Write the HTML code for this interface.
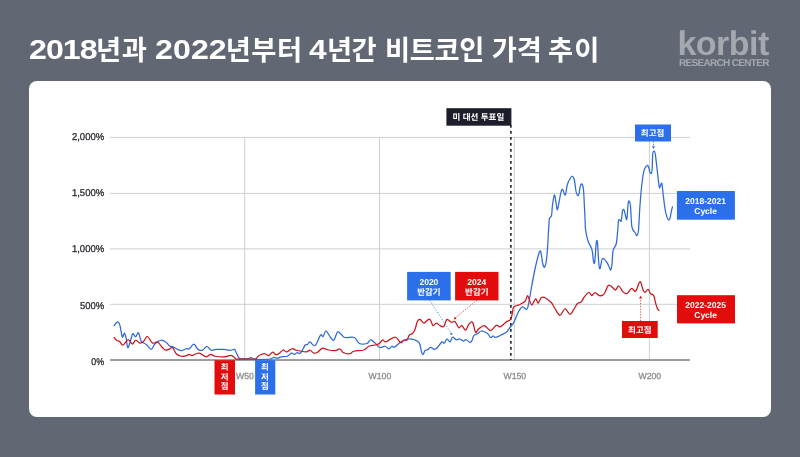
<!DOCTYPE html>
<html lang="ko">
<head>
<meta charset="utf-8">
<title>2018년과 2022년부터 4년간 비트코인 가격 추이</title>
<style>
html,body{margin:0;padding:0;}
body{width:800px;height:457px;overflow:hidden;background:#626873;position:relative;
  font-family:"Liberation Sans","Noto Sans CJK KR",sans-serif;}
.title{position:absolute;left:0;top:0;margin:0;font-size:27.3px;line-height:40px;font-weight:700;color:#fff;white-space:nowrap;}
.title span{position:absolute;display:inline-block;transform-origin:0 0;white-space:nowrap;}
.title .h{top:30.7px;font-size:27.3px;}
.title .n{top:29.7px;font-size:27px;}
.logo{position:absolute;left:677.4px;top:25.9px;color:#a5a8ae;}
.logo .k{font-size:34px;line-height:36px;font-weight:700;letter-spacing:-0.5px;text-rendering:geometricPrecision;display:block;white-space:nowrap;}
.logo .r{font-size:10px;line-height:10px;font-weight:700;display:block;white-space:nowrap;position:absolute;left:1.6px;top:33.3px;letter-spacing:-0.68px;text-rendering:geometricPrecision;}
.card{position:absolute;left:29px;top:80.5px;width:742px;height:336px;background:#fff;border-radius:8px;}
svg{position:absolute;left:0;top:0;}
svg text{font-family:"Liberation Sans","Noto Sans CJK KR",sans-serif;text-rendering:geometricPrecision;}
.yl{font-size:9.9px;fill:#2a2c33;text-anchor:end;stroke:#2a2c33;stroke-width:0.3px;}
.xl{font-size:8.7px;fill:#8c8d92;text-anchor:middle;stroke:#8c8d92;stroke-width:0.3px;}
.lb{font-size:8.5px;font-weight:700;fill:#fff;text-anchor:middle;}
</style>
</head>
<body>
<h1 class="title"><span class="n" style="left:29.16px;letter-spacing:-0.79px;transform:scaleX(1.190)">2018</span><span class="h" style="left:96.09px;letter-spacing:0.49px">년과</span> <span class="n" style="left:155.01px;letter-spacing:0.07px;transform:scaleX(1.190)">2022</span><span class="h" style="left:225.79px;letter-spacing:0.46px">년부터</span> <span class="n" style="left:309.49px;letter-spacing:0.00px;transform:scaleX(1.169)">4</span><span class="h" style="left:327.09px;letter-spacing:-0.72px">년간</span> <span class="h" style="left:385.05px;letter-spacing:-0.39px">비트코인</span> <span class="h" style="left:491.69px;letter-spacing:-0.09px">가격</span> <span class="h" style="left:548.01px;letter-spacing:1.15px">추이</span></h1>
<div class="logo"><span class="k">korbit</span><span class="r">RESEARCH CENTER</span></div>
<div class="card"></div>
<svg width="800" height="457" viewBox="0 0 800 457">
  <!-- gridlines -->
  <g stroke="#cdcfd3" stroke-width="1" fill="none">
    <path d="M110 137.4H690M110 193.4H690M110 248.9H690M110 304.3H690"/>
    <path d="M244.7 137V360M379.5 137V360M514.4 137V360M649.4 137V360"/>
  </g>
  <!-- axis -->
  <path d="M110 360H690" stroke="#7e7e7e" stroke-width="1.7" fill="none"/>
  <!-- y labels -->
  <text class="yl" transform="translate(104.2 140.05) scale(0.963 1)">2,000%</text>
  <text class="yl" transform="translate(104.2 196.35) scale(0.963 1)">1,500%</text>
  <text class="yl" transform="translate(104.2 252.40) scale(0.963 1)">1,000%</text>
  <text class="yl" transform="translate(104.2 309.05) scale(0.955 1)">500%</text>
  <text class="yl" transform="translate(104.2 365.20) scale(0.905 1)">0%</text>
  <!-- x labels -->
  <text class="xl" x="245" y="378.8">W50</text>
  <text class="xl" x="379.9" y="378.8">W100</text>
  <text class="xl" x="514.8" y="378.8">W150</text>
  <text class="xl" x="649.8" y="378.8">W200</text>

  <!-- election dashed line -->
  <path d="M510.85 124.9V360" stroke="#1c1f2b" stroke-width="1.6" stroke-dasharray="2.9 3.1" fill="none"/>

  <!-- series -->
  <path d="M114.10 325.60C114.67 324.98 116.52 321.90 117.50 321.90C118.48 321.90 119.21 323.10 120.00 325.60C120.79 328.10 121.52 335.65 122.25 336.90C122.98 338.15 123.78 333.00 124.40 333.10C125.03 333.20 125.44 335.10 126.00 337.50C126.56 339.90 127.08 346.67 127.75 347.50C128.42 348.33 129.17 344.79 130.00 342.50C130.83 340.21 131.82 334.68 132.75 333.75C133.68 332.82 134.64 337.07 135.60 336.90C136.56 336.73 137.56 332.02 138.50 332.75C139.44 333.48 139.96 339.31 141.25 341.25C142.54 343.19 144.58 343.04 146.25 344.40C147.92 345.76 149.79 349.51 151.25 349.40C152.71 349.29 153.33 345.27 155.00 343.75C156.67 342.23 159.38 340.46 161.25 340.25C163.12 340.04 164.79 341.50 166.25 342.50C167.71 343.50 168.88 345.52 170.00 346.25C171.12 346.98 171.75 346.38 173.00 346.90C174.25 347.42 176.02 348.78 177.50 349.40C178.98 350.02 180.44 350.71 181.90 350.60C183.36 350.49 185.00 349.06 186.25 348.75C187.50 348.44 188.15 349.54 189.40 348.75C190.65 347.96 192.40 344.00 193.75 344.00C195.10 344.00 196.46 347.70 197.50 348.75C198.54 349.80 199.08 350.09 200.00 350.30C200.92 350.51 201.83 350.63 203.00 350.00C204.17 349.37 205.62 346.46 207.00 346.50C208.38 346.54 209.71 349.77 211.25 350.25C212.79 350.73 214.17 349.54 216.25 349.40C218.33 349.26 221.46 349.26 223.75 349.40C226.04 349.54 228.22 350.25 230.00 350.25C231.78 350.25 233.36 349.02 234.40 349.40C235.44 349.77 235.53 351.15 236.25 352.50C236.97 353.85 238.03 356.46 238.75 357.50C239.47 358.54 238.93 358.58 240.60 358.75C242.27 358.92 246.97 358.71 248.75 358.50C250.53 358.29 250.42 357.42 251.25 357.50C252.08 357.58 252.50 358.67 253.75 359.00C255.00 359.33 256.04 359.50 258.75 359.50C261.46 359.50 267.50 359.33 270.00 359.00C272.50 358.67 272.50 357.65 273.75 357.50C275.00 357.35 276.25 358.20 277.50 358.10C278.75 358.00 279.58 357.21 281.25 356.90C282.92 356.59 285.83 356.88 287.50 356.25C289.17 355.62 290.10 353.41 291.25 353.10C292.40 352.79 293.46 354.46 294.40 354.40C295.34 354.34 295.97 352.92 296.90 352.75C297.83 352.58 299.17 353.65 300.00 353.40C300.83 353.15 301.07 352.61 301.90 351.25C302.73 349.89 304.07 346.39 305.00 345.25C305.93 344.11 306.67 344.96 307.50 344.40C308.33 343.84 308.75 341.70 310.00 341.90C311.25 342.10 313.23 346.75 315.00 345.60C316.77 344.45 319.25 336.52 320.60 335.00C321.95 333.48 322.20 337.17 323.10 336.50C324.00 335.83 324.75 330.83 326.00 331.00C327.25 331.17 329.27 336.00 330.60 337.50C331.93 339.00 332.85 340.93 334.00 340.00C335.15 339.07 336.29 332.83 337.50 331.90C338.71 330.97 340.00 333.47 341.25 334.40C342.50 335.33 342.81 336.98 345.00 337.50C347.19 338.02 352.00 336.50 354.40 337.50C356.80 338.50 357.32 342.50 359.40 343.50C361.48 344.50 365.03 344.12 366.90 343.50C368.77 342.88 369.25 339.82 370.60 339.75C371.95 339.68 373.43 341.81 375.00 343.10C376.57 344.39 378.33 346.98 380.00 347.50C381.67 348.02 383.54 346.04 385.00 346.25C386.46 346.46 387.60 348.75 388.75 348.75C389.90 348.75 390.96 346.50 391.90 346.25C392.84 346.00 393.05 347.88 394.40 347.25C395.75 346.62 398.44 343.67 400.00 342.50C401.56 341.33 402.29 340.83 403.75 340.25C405.21 339.67 406.88 339.04 408.75 339.00C410.62 338.96 413.23 339.32 415.00 340.00C416.77 340.68 418.32 341.12 419.40 343.10C420.48 345.08 420.88 350.02 421.50 351.90C422.12 353.78 422.52 354.62 423.10 354.40C423.68 354.18 424.17 351.43 425.00 350.60C425.83 349.77 427.17 349.96 428.10 349.40C429.03 348.84 429.55 347.25 430.60 347.25C431.65 347.25 433.25 349.36 434.40 349.40C435.55 349.44 436.25 348.75 437.50 347.50C438.75 346.25 440.75 342.63 441.90 341.90C443.05 341.17 443.57 343.58 444.40 343.10C445.23 342.62 445.97 339.20 446.90 339.00C447.83 338.80 449.07 342.19 450.00 341.90C450.93 341.61 451.46 337.61 452.50 337.25C453.54 336.89 455.00 339.46 456.25 339.75C457.50 340.04 458.86 338.79 460.00 339.00C461.14 339.21 462.06 340.88 463.10 341.00C464.14 341.12 465.10 339.50 466.25 339.75C467.40 340.00 469.00 342.46 470.00 342.50C471.00 342.54 471.62 341.15 472.25 340.00C472.88 338.85 472.88 336.64 473.75 335.60C474.62 334.56 476.25 334.52 477.50 333.75C478.75 332.98 479.58 331.04 481.25 331.00C482.92 330.96 485.94 332.42 487.50 333.50C489.06 334.58 489.67 337.08 490.60 337.50C491.53 337.92 492.27 336.02 493.10 336.00C493.93 335.98 494.24 337.57 495.60 337.40C496.96 337.23 499.48 335.86 501.25 335.00C503.02 334.14 504.79 333.50 506.25 332.25C507.71 331.00 508.75 329.12 510.00 327.50C511.25 325.88 512.29 325.21 513.75 322.50C515.21 319.79 517.29 313.85 518.75 311.25C520.21 308.65 521.25 307.21 522.50 306.90C523.75 306.59 525.32 309.51 526.25 309.40C527.18 309.29 527.27 309.69 528.10 306.25C528.93 302.81 530.20 294.46 531.25 288.75C532.30 283.04 533.26 277.42 534.40 272.00C535.54 266.58 537.07 259.71 538.10 256.25C539.13 252.79 539.83 250.00 540.60 251.25C541.38 252.50 542.06 261.14 542.75 263.75C543.44 266.36 544.06 268.15 544.75 266.90C545.44 265.65 546.23 262.82 546.90 256.25C547.57 249.68 548.33 233.75 548.75 227.50C549.17 221.25 548.94 220.73 549.40 218.75C549.86 216.77 550.98 217.89 551.50 215.60C552.02 213.31 552.02 208.43 552.50 205.00C552.98 201.57 553.82 195.42 554.40 195.00C554.98 194.58 555.52 200.00 556.00 202.50C556.48 205.00 556.75 210.00 557.25 210.00C557.75 210.00 558.38 205.52 559.00 202.50C559.62 199.48 560.42 194.08 561.00 191.90C561.58 189.72 561.93 189.09 562.50 189.40C563.07 189.71 563.88 192.92 564.40 193.75C564.92 194.58 565.12 195.86 565.60 194.40C566.08 192.94 566.52 187.61 567.25 185.00C567.98 182.39 569.12 180.21 570.00 178.75C570.88 177.29 571.77 176.04 572.50 176.25C573.23 176.46 573.82 177.50 574.40 180.00C574.98 182.50 575.48 188.65 576.00 191.25C576.52 193.85 577.00 195.18 577.50 195.60C578.00 196.02 578.54 195.31 579.00 193.75C579.46 192.19 579.77 187.88 580.25 186.25C580.73 184.62 581.36 183.38 581.90 184.00C582.44 184.62 583.08 186.29 583.50 190.00C583.92 193.71 584.15 201.58 584.40 206.25C584.65 210.92 584.80 214.04 585.00 218.00C585.20 221.96 585.08 226.12 585.60 230.00C586.12 233.88 587.05 238.02 588.10 241.25C589.15 244.48 591.00 246.07 591.90 249.40C592.80 252.73 593.02 259.17 593.50 261.25C593.98 263.33 594.30 264.88 594.75 261.90C595.20 258.92 595.76 246.67 596.20 243.40C596.64 240.13 596.98 239.12 597.40 242.30C597.82 245.48 598.32 258.09 598.75 262.50C599.18 266.91 599.38 269.40 600.00 268.75C600.62 268.10 601.35 259.64 602.50 258.60C603.65 257.56 605.75 261.02 606.90 262.50C608.05 263.98 608.78 266.25 609.40 267.50C610.02 268.75 610.18 270.42 610.60 270.00C611.02 269.58 611.48 268.23 611.90 265.00C612.32 261.77 612.38 254.14 613.10 250.60C613.83 247.06 615.48 247.18 616.25 243.75C617.02 240.32 617.38 233.86 617.75 230.00C618.12 226.14 618.12 222.27 618.50 220.60C618.88 218.93 619.54 219.93 620.00 220.00C620.46 220.07 620.83 222.46 621.25 221.00C621.67 219.54 622.04 213.12 622.50 211.25C622.96 209.38 623.48 208.92 624.00 209.75C624.52 210.58 625.12 214.71 625.60 216.25C626.08 217.79 626.48 221.08 626.90 219.00C627.32 216.92 627.68 206.71 628.10 203.75C628.52 200.79 628.98 200.62 629.40 201.25C629.82 201.88 630.18 203.22 630.60 207.50C631.02 211.78 631.17 222.73 631.90 226.90C632.63 231.07 634.17 231.05 635.00 232.50C635.83 233.95 636.32 236.02 636.90 235.60C637.48 235.18 638.02 234.47 638.50 230.00C638.98 225.53 639.29 215.42 639.75 208.75C640.21 202.08 640.69 195.62 641.25 190.00C641.81 184.38 642.48 178.65 643.10 175.00C643.73 171.35 644.27 169.70 645.00 168.10C645.73 166.50 646.88 165.50 647.50 165.40C648.12 165.30 648.33 166.32 648.75 167.50C649.17 168.68 649.54 171.57 650.00 172.50C650.46 173.43 651.13 173.93 651.50 173.10C651.87 172.27 651.99 170.72 652.20 167.50C652.41 164.28 652.45 156.46 652.75 153.75C653.05 151.04 653.58 151.25 654.00 151.25C654.42 151.25 654.77 151.04 655.25 153.75C655.73 156.46 656.48 163.96 656.90 167.50C657.32 171.04 657.33 171.67 657.75 175.00C658.17 178.33 658.92 185.83 659.40 187.50C659.88 189.17 660.18 185.62 660.60 185.00C661.02 184.38 661.48 182.29 661.90 183.75C662.32 185.21 662.58 189.58 663.10 193.75C663.62 197.92 664.37 204.89 665.00 208.75C665.63 212.61 666.32 215.03 666.90 216.90C667.48 218.78 667.98 219.80 668.50 220.00C669.02 220.20 669.50 219.67 670.00 218.10C670.50 216.53 671.08 212.47 671.50 210.60C671.92 208.73 672.33 207.52 672.50 206.90" stroke="#2d69da" stroke-width="1.25" fill="none" stroke-linejoin="round" stroke-linecap="round"/>
  <path d="M114.10 337.50C114.57 338.02 116.02 339.98 116.90 340.60C117.78 341.23 118.37 340.52 119.40 341.25C120.43 341.98 121.65 345.25 123.10 345.00C124.55 344.75 126.53 339.92 128.10 339.75C129.67 339.58 131.25 343.92 132.50 344.00C133.75 344.08 134.35 340.40 135.60 340.25C136.85 340.10 138.64 342.93 140.00 343.10C141.36 343.27 142.50 342.35 143.75 341.25C145.00 340.15 146.04 336.19 147.50 336.50C148.96 336.81 150.83 342.20 152.50 343.10C154.17 344.00 156.04 341.38 157.50 341.90C158.96 342.42 160.00 344.90 161.25 346.25C162.50 347.60 163.75 349.48 165.00 350.00C166.25 350.52 167.50 349.82 168.75 349.40C170.00 348.98 171.25 346.77 172.50 347.50C173.75 348.23 174.79 352.29 176.25 353.75C177.71 355.21 179.58 355.94 181.25 356.25C182.92 356.56 184.89 355.91 186.25 355.60C187.61 355.29 188.46 354.40 189.40 354.40C190.34 354.40 190.76 355.71 191.90 355.60C193.04 355.49 194.90 354.12 196.25 353.75C197.60 353.38 198.33 352.88 200.00 353.40C201.67 353.92 204.48 356.73 206.25 356.90C208.02 357.07 209.14 354.51 210.60 354.40C212.06 354.29 212.81 355.83 215.00 356.25C217.19 356.67 221.15 357.04 223.75 356.90C226.35 356.76 228.93 355.40 230.60 355.40C232.27 355.40 232.81 356.28 233.75 356.90C234.69 357.52 235.00 358.75 236.25 359.10C237.50 359.45 238.12 359.02 241.25 359.00C244.38 358.98 252.29 359.35 255.00 359.00C257.71 358.65 256.57 357.61 257.50 356.90C258.43 356.19 259.35 355.27 260.60 354.75C261.85 354.23 263.64 353.61 265.00 353.75C266.36 353.89 267.50 355.85 268.75 355.60C270.00 355.35 271.25 352.39 272.50 352.25C273.75 352.11 275.00 354.67 276.25 354.75C277.50 354.83 278.86 353.54 280.00 352.75C281.14 351.96 281.95 350.14 283.10 350.00C284.25 349.86 285.43 352.11 286.90 351.90C288.37 351.69 290.45 349.07 291.90 348.75C293.35 348.43 294.25 349.62 295.60 350.00C296.95 350.38 298.23 350.68 300.00 351.00C301.77 351.32 304.58 352.02 306.25 351.90C307.92 351.77 308.75 350.05 310.00 350.25C311.25 350.45 312.50 352.77 313.75 353.10C315.00 353.43 316.04 353.08 317.50 352.25C318.96 351.42 320.83 348.52 322.50 348.10C324.17 347.68 325.42 349.33 327.50 349.75C329.58 350.17 332.92 350.73 335.00 350.60C337.08 350.48 338.65 348.68 340.00 349.00C341.35 349.32 341.43 351.71 343.10 352.50C344.77 353.29 348.23 353.96 350.00 353.75C351.77 353.54 351.46 351.88 353.75 351.25C356.04 350.62 361.25 350.83 363.75 350.00C366.25 349.17 366.88 347.08 368.75 346.25C370.62 345.42 373.23 345.46 375.00 345.00C376.77 344.54 378.15 344.33 379.40 343.50C380.65 342.67 381.47 340.27 382.50 340.00C383.53 339.73 384.35 342.00 385.60 341.90C386.85 341.80 388.33 340.17 390.00 339.40C391.67 338.62 393.93 336.78 395.60 337.25C397.27 337.72 398.95 341.32 400.00 342.20C401.05 343.07 401.27 342.82 401.90 342.50C402.52 342.18 402.92 340.67 403.75 340.25C404.58 339.83 405.96 340.88 406.90 340.00C407.84 339.12 408.47 336.08 409.40 335.00C410.33 333.92 411.57 334.43 412.50 333.50C413.43 332.57 414.17 331.44 415.00 329.40C415.83 327.36 416.67 322.92 417.50 321.25C418.33 319.58 418.96 319.09 420.00 319.40C421.04 319.71 422.60 322.90 423.75 323.10C424.90 323.30 425.86 321.22 426.90 320.60C427.94 319.98 428.97 318.57 430.00 319.40C431.03 320.23 432.06 324.98 433.10 325.60C434.14 326.22 435.10 323.10 436.25 323.10C437.40 323.10 438.75 325.03 440.00 325.60C441.25 326.17 442.60 327.53 443.75 326.50C444.90 325.47 445.65 320.11 446.90 319.40C448.15 318.69 449.90 321.90 451.25 322.25C452.60 322.60 453.75 320.58 455.00 321.50C456.25 322.42 457.60 327.07 458.75 327.75C459.90 328.43 460.76 325.18 461.90 325.60C463.04 326.02 464.46 330.45 465.60 330.25C466.74 330.05 467.60 325.73 468.75 324.40C469.90 323.07 471.36 320.94 472.50 322.25C473.64 323.56 474.56 331.17 475.60 332.25C476.64 333.33 477.28 329.86 478.75 328.75C480.22 327.64 482.42 325.29 484.40 325.60C486.38 325.91 488.62 330.66 490.60 330.60C492.58 330.54 494.68 325.87 496.25 325.25C497.82 324.63 498.33 327.46 500.00 326.90C501.67 326.34 504.48 323.15 506.25 321.90C508.02 320.65 509.56 320.97 510.60 319.40C511.64 317.83 511.98 314.58 512.50 312.50C513.02 310.42 512.71 308.15 513.75 306.90C514.79 305.65 516.88 305.94 518.75 305.00C520.62 304.06 523.54 302.82 525.00 301.25C526.46 299.68 526.77 295.81 527.50 295.60C528.23 295.39 528.67 298.43 529.40 300.00C530.13 301.57 530.87 305.21 531.90 305.00C532.93 304.79 534.57 299.07 535.60 298.75C536.63 298.43 537.16 303.27 538.10 303.10C539.04 302.93 540.10 298.64 541.25 297.75C542.40 296.86 543.33 296.96 545.00 297.75C546.67 298.54 549.58 300.67 551.25 302.50C552.92 304.33 553.54 306.62 555.00 308.75C556.46 310.88 558.33 315.25 560.00 315.25C561.67 315.25 563.33 308.89 565.00 308.75C566.67 308.61 568.54 314.29 570.00 314.40C571.46 314.51 572.50 311.22 573.75 309.40C575.00 307.58 576.25 304.75 577.50 303.50C578.75 302.25 580.21 302.86 581.25 301.90C582.29 300.94 582.50 299.32 583.75 297.75C585.00 296.18 587.39 292.86 588.75 292.50C590.11 292.14 590.86 295.60 591.90 295.60C592.94 295.60 593.75 292.50 595.00 292.50C596.25 292.50 597.94 295.28 599.40 295.60C600.86 295.92 602.23 296.12 603.75 294.40C605.27 292.67 607.04 286.40 608.50 285.25C609.96 284.10 611.32 286.71 612.50 287.50C613.68 288.29 614.56 290.25 615.60 290.00C616.64 289.75 617.50 285.68 618.75 286.00C620.00 286.32 621.74 290.65 623.10 291.90C624.46 293.15 625.50 294.07 626.90 293.50C628.30 292.93 630.05 288.88 631.50 288.50C632.95 288.12 634.39 292.04 635.60 291.25C636.81 290.46 637.92 285.31 638.75 283.75C639.58 282.19 639.88 280.86 640.60 281.90C641.33 282.94 642.37 288.27 643.10 290.00C643.83 291.73 644.17 292.35 645.00 292.25C645.83 292.15 647.17 289.15 648.10 289.40C649.03 289.65 649.66 292.72 650.60 293.75C651.54 294.78 652.92 294.04 653.75 295.60C654.58 297.16 654.98 300.91 655.60 303.10C656.23 305.29 656.92 307.50 657.50 308.75C658.08 310.00 658.83 310.29 659.10 310.60" stroke="#c9161c" stroke-width="1.25" fill="none" stroke-linejoin="round" stroke-linecap="round"/>

  <!-- annotation dotted lines -->
  <path d="M429.7 300.3L451 333" stroke="#2c6fe6" stroke-width="0.8" stroke-dasharray="1.2 1.6" fill="none"/>
  <circle cx="451.3" cy="333.8" r="1.1" fill="#2b70ea"/>
  <path d="M477 300.3L455.6 317.6" stroke="#de1010" stroke-width="0.8" stroke-dasharray="1.2 1.6" fill="none"/>
  <circle cx="455" cy="318.3" r="1.1" fill="#e20c0c"/>
  <path d="M653.5 141.5V146" stroke="#2c6fe6" stroke-width="0.8" stroke-dasharray="1.2 1.4" fill="none"/>
  <path d="M651.9 146.2H655.1L653.5 148.9Z" fill="#2b70ea"/>
  <path d="M640.6 321V298.5" stroke="#de1010" stroke-width="0.8" stroke-dasharray="1.2 1.6" fill="none"/>
  <path d="M639 298.6H642.2L640.6 295.8Z" fill="#e20c0c"/>

  <!-- labels -->
  <rect x="446.4" y="108.2" width="65" height="17.5" fill="#1c1f2b"/>
  <text class="lb" x="478.4" y="119.9" style="font-size:8.5px">미 대선 투표일</text>

  <rect x="635" y="124.5" width="36" height="17" fill="#2b70ea"/>
  <text class="lb" x="652.6" y="136">최고점</text>

  <rect x="676.9" y="191" width="58" height="28.7" fill="#2b70ea"/>
  <text class="lb" x="705.6" y="204">2018-2021</text>
  <text class="lb" x="705.6" y="214">Cycle</text>

  <rect x="677" y="295.2" width="58" height="28.2" fill="#e20c0c"/>
  <text class="lb" x="705.6" y="308">2022-2025</text>
  <text class="lb" x="705.6" y="318">Cycle</text>

  <rect x="622" y="321" width="35.7" height="17" fill="#e20c0c"/>
  <text class="lb" x="639.8" y="332.6">최고점</text>

  <rect x="407.1" y="271.9" width="43.6" height="28.5" fill="#2b70ea"/>
  <text class="lb" x="428.9" y="285">2020</text>
  <text class="lb" x="428.9" y="295.2">반감기</text>

  <rect x="455.1" y="271.9" width="43.4" height="28.5" fill="#e20c0c"/>
  <text class="lb" x="476.8" y="285">2024</text>
  <text class="lb" x="476.8" y="295.2">반감기</text>

  <rect x="214.5" y="360.2" width="20.5" height="34.3" fill="#e20c0c"/>
  <text class="lb" x="224.6" y="370.2">최</text>
  <text class="lb" x="224.6" y="379.5">저</text>
  <text class="lb" x="224.6" y="388.9">점</text>

  <rect x="255.1" y="360.2" width="20.2" height="34.3" fill="#2b70ea"/>
  <text class="lb" x="265" y="370.2">최</text>
  <text class="lb" x="265" y="379.5">저</text>
  <text class="lb" x="265" y="388.9">점</text>
</svg>
</body>
</html>
